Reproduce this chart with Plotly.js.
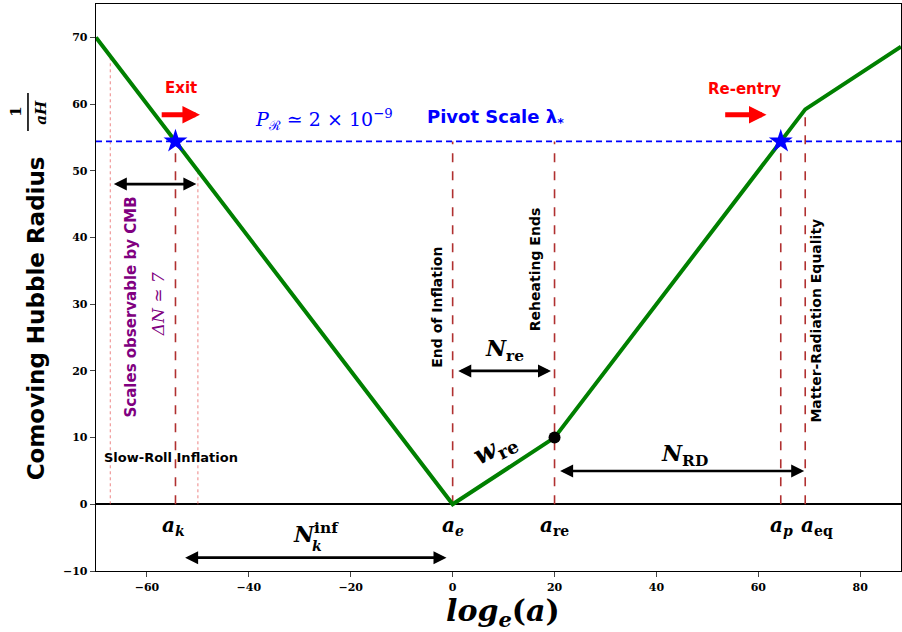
<!DOCTYPE html>
<html>
<head>
<meta charset="utf-8">
<script src="https://cdn.plot.ly/plotly-3.0.1.min.js"></script>
<style>
  html, body { margin: 0; padding: 0; background: #fff; }
  #chart { width: 902px; height: 632px; }
</style>
</head>
<body>
<div id="chart"></div>
<script>
// Comoving Hubble radius 1/(aH) versus e-folds log_e(a)
const hubbleX = [-70, 0, 20, 69.2, 88];
const hubbleY = [70, 0, 10, 59.2, 68.6];

// pivot scale level and the two crossings (exit / re-entry)
const pivotY = 54.4;
const starX = [-54.4, 64.4];
const starY = [54.4, 54.4];

// end of reheating point
const reheatX = [20];
const reheatY = [10];

// key epochs: a_k, a_e, a_re, a_p, a_eq
const epochX = [-54.4, 0, 20, 64.4, 69.2];
const epochTop = [54.4, 54.4, 54.4, 54.4, 59.2];
const epochLabels = ['<b><i>a</i><sub><i>k</i></sub></b>', '<b><i>a</i><sub><i>e</i></sub></b>',
                     '<b><i>a</i><sub>re</sub></b>', '<b><i>a</i><sub><i>p</i></sub></b>',
                     '<b><i>a</i><sub>eq</sub></b>'];
const epochLabelX = [-54.8, 0, 20, 64.6, 71.6];

// window of scales observable by the CMB
const cmbX = [-67.2, -50.0];
const cmbTop = [67.2, 50.0];

const xTicks = [-60, -40, -20, 0, 20, 40, 60, 80];
const yTicks = [-10, 0, 10, 20, 30, 40, 50, 60, 70];

const SANS = 'DejaVu Sans, sans-serif';
const SERIF = 'DejaVu Serif, serif';

const traces = [];

// thin dotted bounds of the CMB window
cmbX.forEach((x, i) => traces.push({
  x: [x, x], y: [0, cmbTop[i]], mode: 'lines', hoverinfo: 'skip',
  line: {color: 'rgba(230,80,80,0.7)', width: 1, dash: 'dot'}
}));

// dashed epoch markers
epochX.forEach((x, i) => traces.push({
  x: [x, x], y: [0, epochTop[i]], mode: 'lines', hoverinfo: 'skip',
  line: {color: '#b03030', width: 1.6, dash: 'dash'}
}));

// pivot scale
traces.push({
  x: [-70, 88], y: [pivotY, pivotY], mode: 'lines', hoverinfo: 'skip',
  line: {color: '#0000ff', width: 1.6, dash: '6px,4px'}
});

// Hubble radius
traces.push({
  x: hubbleX, y: hubbleY, mode: 'lines',
  line: {color: '#008000', width: 4}
});

traces.push({
  x: starX, y: starY, mode: 'markers',
  marker: {symbol: 'star', size: 18, color: '#0000ff'}
});

traces.push({
  x: reheatX, y: reheatY, mode: 'markers',
  marker: {symbol: 'circle', size: 12, color: '#000'}
});

function dblArrow(x0, x1, y) {
  return {x: x1, y: y, ax: x0, ay: y, xref: 'x', yref: 'y', axref: 'x', ayref: 'y',
          text: '', showarrow: true, arrowside: 'end+start', arrowhead: 2,
          arrowsize: 1, arrowwidth: 2.6, arrowcolor: '#000'};
}
function redArrow(x0, x1, y) {
  return {x: x1, y: y, ax: x0, ay: y, xref: 'x', yref: 'y', axref: 'x', ayref: 'y',
          text: '', showarrow: true, arrowhead: 2, arrowsize: 0.7,
          arrowwidth: 5, arrowcolor: '#ff0000'};
}
function label(text, x, y, size, color, family, angle) {
  return {x: x, y: y, xref: 'x', yref: 'y', text: text, showarrow: false,
          font: {size: size, color: color || '#000', family: family || SANS},
          textangle: angle || 0, xanchor: 'center', yanchor: 'middle'};
}
function paperText(text, x, y, size, family, angle) {
  return {x: x, y: y, xref: 'paper', yref: 'paper', text: text, showarrow: false,
          textangle: angle || 0, font: {size: size, family: family, color: '#000'},
          xanchor: 'center', yanchor: 'middle'};
}

const annotations = [
  dblArrow(-66.8, -50.3, 48),
  dblArrow(0.8, 19.3, 20),
  dblArrow(20.8, 69.0, 5),
  dblArrow(-52.8, -1.2, -8),
  redArrow(-57.4, -49.6, 58.4),
  redArrow(53.2, 61.6, 58.4),

  label('<b>Exit</b>', -53.3, 62.4, 15, '#ff0000'),
  label('<b>Re-entry</b>', 57.3, 62.2, 15, '#ff0000'),
  label('<i>P</i><sub>\u211B</sub> \u2243 2 \u00d7 10<sup>\u22129</sup>', -25.3, 57.7, 19, '#0000ff', SERIF),
  label('<b>Pivot Scale \u03BB<sub>*</sub></b>', 8.4, 57.9, 18, '#0000ff'),
  label('<b>Scales observable by CMB</b>', -63.2, 29.6, 15, '#800080', SANS, -90),
  label('<i>\u0394N</i> \u2243 <i>7</i>', -57.8, 30.0, 17, '#800080', SERIF, -90),
  label('<b>Slow-Roll Inflation</b>', -55.2, 7.0, 13),
  label('<b>End of Inflation</b>', -3.1, 29.6, 14, '#000', SANS, -90),
  label('<b>Reheating Ends</b>', 16.3, 35.2, 14, '#000', SANS, -90),
  label('<b>Matter-Radiation Equality</b>', 71.4, 27.6, 14, '#000', SANS, -90),
  label('<b><i>N</i><sub>re</sub></b>', 10.2, 23.2, 22, '#000', SERIF),
  label('<b><i>w</i><sub>re</sub></b>', 8.4, 8.4, 26, '#000', SERIF, -27),
  label('<b><i>N</i><sub>RD</sub></b>', 45.6, 7.4, 22, '#000', SERIF),
  label('<b><i>N</i><sup>inf</sup></b>', -26.9, -4.3, 22, '#000', SERIF),
  label('<b><i>k</i></b>', -26.6, -6.3, 14, '#000', SERIF),

  // axis titles
  paperText('<b>Comoving Hubble Radius</b>', -0.075, 0.445, 23, SANS, -90),
  paperText('<b>1</b>', -0.0994, 0.81, 15, SERIF, -90),
  paperText('<b><i>aH</i></b>', -0.0684, 0.81, 15, SERIF, -90),
  Object.assign(paperText('<b><i>log</i><sub><i>e</i></sub>(<i>a</i>)</b>', 0.5054, -0.036, 30, SERIF, 0),
                {yanchor: 'top'})
];

epochLabelX.forEach((x, i) => annotations.push(label(epochLabels[i], x, -3.3, 20, '#000', SERIF)));

const layout = {
  width: 902, height: 632,
  margin: {l: 96, r: 1, t: 4, b: 61},
  paper_bgcolor: '#fff', plot_bgcolor: '#fff',
  showlegend: false,
  xaxis: {
    range: [-70, 88], tickvals: xTicks, ticks: 'outside', ticklen: 5, tickwidth: 1,
    showgrid: false, zeroline: false, showline: true, linecolor: '#000', linewidth: 1.3,
    mirror: true, tickfont: {family: SERIF, size: 11, color: '#000', weight: 'bold'}
  },
  yaxis: {
    range: [-10, 75], tickvals: yTicks, ticks: 'outside', ticklen: 5, tickwidth: 1,
    showgrid: false, zeroline: true, zerolinecolor: '#000', zerolinewidth: 1.6,
    showline: true, linecolor: '#000', linewidth: 1.3, mirror: true,
    tickfont: {family: SERIF, size: 11, color: '#000', weight: 'bold'}
  },
  shapes: [
    {type: 'line', xref: 'paper', yref: 'paper', x0: -0.0845, x1: -0.0845,
     y0: 0.776, y1: 0.843, line: {color: '#000', width: 1.6}}
  ],
  annotations: annotations
};

Plotly.newPlot('chart', traces, layout, {displayModeBar: false, staticPlot: true});
</script>
</body>
</html>
